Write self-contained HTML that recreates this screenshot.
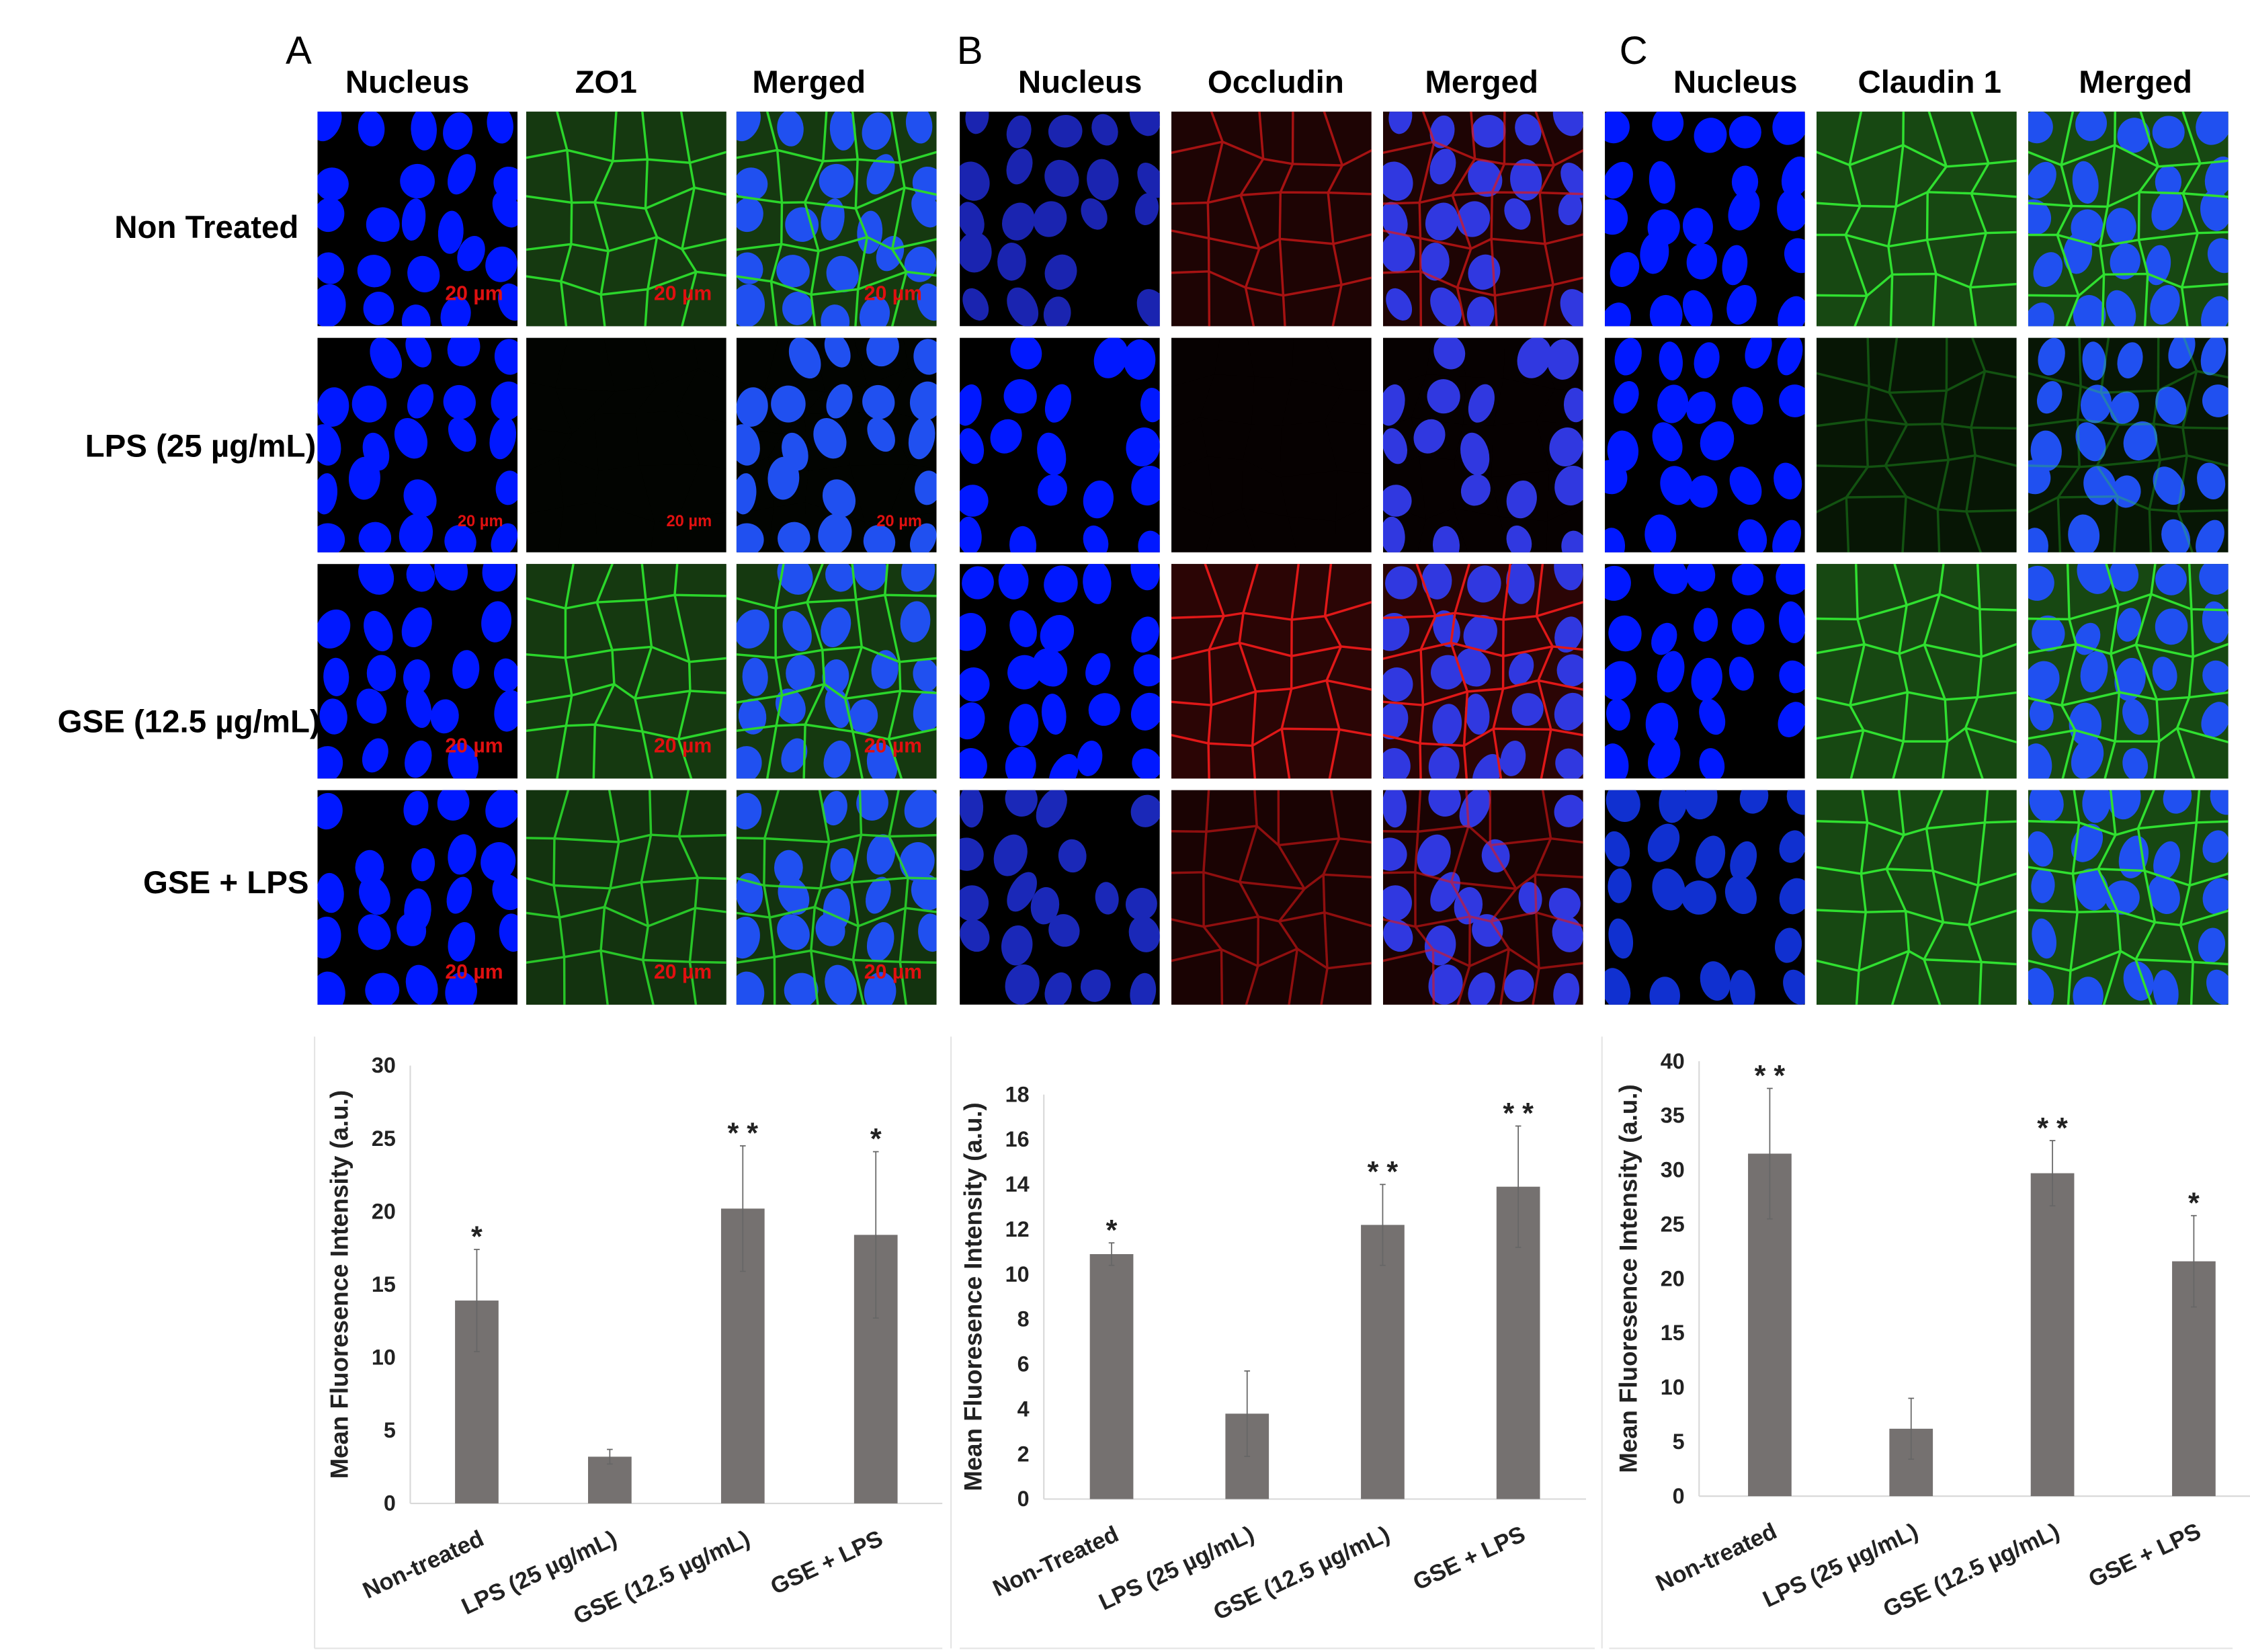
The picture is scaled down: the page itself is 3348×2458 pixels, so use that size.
<!DOCTYPE html>
<html><head><meta charset="utf-8"><style>
html,body{margin:0;padding:0;background:#fff;}
svg{display:block;}
text{font-family:"Liberation Sans",sans-serif;}
</style></head><body>
<svg id="fig" xmlns="http://www.w3.org/2000/svg" width="3348" height="2458" viewBox="0 0 1552 1139.5" preserveAspectRatio="none">
<rect x="0" y="0" width="1552" height="1139.5" fill="#fff"/>
<g id="micro"></g>
<g id="labels">
<text x="197" y="44" font-size="27">A</text>
<text x="660" y="44" font-size="27">B</text>
<text x="1117" y="44" font-size="27">C</text>
<g font-size="22" font-weight="bold" text-anchor="middle">
<text x="281" y="64">Nucleus</text>
<text x="418" y="64">ZO1</text>
<text x="558" y="64">Merged</text>
<text x="745" y="64">Nucleus</text>
<text x="880" y="64">Occludin</text>
<text x="1022" y="64">Merged</text>
<text x="1197" y="64">Nucleus</text>
<text x="1331" y="64">Claudin 1</text>
<text x="1473" y="64">Merged</text>
</g>
<g font-size="22" font-weight="bold" text-anchor="end">
<text x="206" y="164">Non Treated</text>
<text x="218" y="315">LPS (25 µg/mL)</text>
<text x="221" y="505">GSE (12.5 µg/mL)</text>
<text x="213" y="616">GSE + LPS</text>
</g>
</g>
<g stroke="#e4e4e4" stroke-width="1" fill="none">
<line x1="217" y1="1137" x2="650" y2="1137"/>
<line x1="217" y1="715" x2="217" y2="1137"/>
<line x1="656" y1="715" x2="656" y2="1137"/>
<line x1="1105" y1="715" x2="1105" y2="1137"/>
<line x1="662" y1="1137" x2="1100" y2="1137"/>
<line x1="1110" y1="1137" x2="1540" y2="1137"/>
</g>
<g id="charts"></g>
</svg>
<script>
// ===== Chart data =====
const catsA = ["Non-treated","LPS (25 µg/mL)","GSE (12.5 µg/mL)","GSE + LPS"];
const catsB = ["Non-Treated","LPS (25 µg/mL)","GSE (12.5 µg/mL)","GSE + LPS"];
const catsC = ["Non-treated","LPS (25 µg/mL)","GSE (12.5 µg/mL)","GSE + LPS"];
const valuesA = [13.9, 3.2, 20.2, 18.4];
const errorsA = [3.5, 0.5, 4.3, 5.7];
const starsA = ["*", "", "**", "*"];
const ticksA = [0,5,10,15,20,25,30];
const valuesB = [10.9, 3.8, 12.2, 13.9];
const errorsB = [0.5, 1.9, 1.8, 2.7];
const starsB = ["*", "", "**", "**"];
const ticksB = [0,2,4,6,8,10,12,14,16,18];
const valuesC = [31.5, 6.2, 29.7, 21.6];
const errorsC = [6.0, 2.8, 3.0, 4.2];
const starsC = ["**", "", "**", "*"];
const ticksC = [0,5,10,15,20,25,30,35,40];

const NS = "http://www.w3.org/2000/svg";
function mk(tag, attrs, parent){ const e=document.createElementNS(NS,tag); for(const k in attrs) e.setAttribute(k,attrs[k]); if(parent) parent.appendChild(e); return e; }

function drawChart(id, cfg, cats, vals, errs, stars, ticks){
  const root = document.getElementById('charts');
  const g = mk('g',{},root);
  
  
  const max = ticks[ticks.length-1];
  const y = v => cfg.y0 - (v/max)*(cfg.y0-cfg.yTop);
  const band = (cfg.xEnd-cfg.x0)/cats.length;
  const x = i => cfg.x0 + band*(i+0.5);
  mk('line',{x1:cfg.x0,y1:cfg.yTop,x2:cfg.x0,y2:cfg.y0,stroke:'#d9d9d9','stroke-width':1},g);
  mk('line',{x1:cfg.x0,y1:cfg.y0,x2:cfg.xEnd,y2:cfg.y0,stroke:'#d9d9d9','stroke-width':1},g);
  ticks.forEach(t=>{
    const tx = mk('text',{x:cfg.x0-10,y:y(t)+5,'font-size':15,'font-weight':'bold','text-anchor':'end',fill:'#222'},g);
    tx.textContent = t;
    
    
  });
  const yt = mk('text',{x:0,y:0,'font-size':17,'font-weight':'bold','text-anchor':'middle',fill:'#222',transform:`translate(${cfg.x0-43},${(cfg.y0+cfg.yTop)/2}) rotate(-90)`},g);
  yt.textContent = 'Mean Fluoresence Intensity (a.u.)';
  
  
  cats.forEach((c,i)=>{
    const cx = x(i), bw = 30;
    const r = mk('rect',{x:cx-bw/2,y:y(vals[i]),width:bw,height:cfg.y0-y(vals[i]),fill:'#757170'},g);
    
    
    const e = mk('line',{x1:cx,x2:cx,y1:y(vals[i]+errs[i]),y2:y(vals[i]-errs[i]),stroke:'#666','stroke-width':0.8},g);
    
    
    mk('line',{x1:cx-2,x2:cx+2,y1:y(vals[i]+errs[i]),y2:y(vals[i]+errs[i]),stroke:'#666','stroke-width':0.8},g);
    mk('line',{x1:cx-2,x2:cx+2,y1:y(vals[i]-errs[i]),y2:y(vals[i]-errs[i]),stroke:'#666','stroke-width':0.8},g);
    if(stars[i]){
      const s = mk('text',{x:cx,y:y(vals[i]+errs[i])-2,'font-size':20,'font-weight':'bold','text-anchor':'middle',fill:'#222'},g);
      s.textContent = stars[i].split('').join(' ');
      
      
    }
    const l = mk('text',{x:0,y:0,'font-size':16,'font-weight':'bold','text-anchor':'end',fill:'#222',transform:`translate(${cx+6},${cfg.y0+28}) rotate(-25)`},g);
    l.textContent = c;
    
    
  });
}
drawChart('a',{x0:283,xEnd:650,y0:1037,yTop:735},catsA,valuesA,errorsA,starsA,ticksA);
drawChart('b',{x0:720,xEnd:1094,y0:1034,yTop:755},catsB,valuesB,errorsB,starsB,ticksB);
drawChart('c',{x0:1172,xEnd:1562,y0:1032,yTop:732},catsC,valuesC,errorsC,starsC,ticksC);

// ===== Decorative microscopy panels =====
let seed = 7;
function rnd(){ seed = (seed*16807)%2147483647; return seed/2147483647; }
const micro = document.getElementById('micro');
const defs = mk('defs',{},micro);
const groups = [
  {cols:[219,363,508], marker:'#2bd62b', tint:'#173f12', inten:[1,0.08,1,0.9], nuc:['#0018ff','#0018ff','#0018ff','#0018ff'], bar:true},
  {cols:[662,808,954], marker:'#e01818', tint:'#300606', inten:[0.7,0.15,1,0.6], nuc:['#1a24b0','#0018ff','#0018ff','#1a28b8'], bar:false},
  {cols:[1107,1253,1399], marker:'#30e030', tint:'#1a5014', inten:[1,0.3,1,1], nuc:['#0018ff','#0018ff','#0018ff','#1030d0'], bar:false}
];
const rows = [77,233,389,545];
const W = 138, H = 148;
let cid = 0;
groups.forEach((gr,gi)=>{
  rows.forEach((ry,ri)=>{
    const nx=5, ny=5, pts=[];
    for(let j=0;j<=ny;j++){ pts[j]=[]; for(let i=0;i<=nx;i++){ pts[j][i]=[ (i/nx)*W + (i>0&&i<nx?(rnd()-0.5)*18:0)+(i==0?-10:0)+(i==nx?10:0), (j/ny)*H + (j>0&&j<ny?(rnd()-0.5)*18:0)+(j==0?-10:0)+(j==ny?10:0)]; } }
    const nuclei=[];
    for(let j=0;j<ny;j++) for(let i=0;i<nx;i++){
      if(rnd()<0.12) continue;
      const cx=(pts[j][i][0]+pts[j+1][i+1][0])/2+(rnd()-0.5)*6, cy=(pts[j][i][1]+pts[j+1][i+1][1])/2+(rnd()-0.5)*6;
      nuclei.push([cx,cy,8+rnd()*4,11+rnd()*4,(rnd()-0.5)*60]);
    }
    gr.cols.forEach((px,ci)=>{
      cid++;
      const clip = mk('clipPath',{id:'cp'+cid},defs);
      mk('rect',{x:px,y:ry,width:W,height:H},clip);
      const p = mk('g',{'clip-path':`url(#cp${cid})`},micro);
      
      
      mk('rect',{x:px,y:ry,width:W,height:H,fill:'#000'},p);
      const inten = gr.inten[ri];
      if(ci>=1){
        for(let j=0;j<ny;j++) for(let i=0;i<nx;i++){
          const q=[pts[j][i],pts[j][i+1],pts[j+1][i+1],pts[j+1][i]].map(a=>(a[0]+px)+','+(a[1]+ry)).join(' ');
          mk('polygon',{points:q,fill:gr.tint,opacity:inten*0.9},p);
        }
      }
      if(ci!==1){
        nuclei.forEach(n=>{
          mk('ellipse',{cx:n[0]+px,cy:n[1]+ry,rx:n[2],ry:n[3],fill:ci==2?(gi==1?'#3038e0':'#2050f0'):gr.nuc[ri],transform:`rotate(${n[4]} ${n[0]+px} ${n[1]+ry})`},p);
        });
      }
      if(ci>=1 && inten>0.2){
        let d='';
        for(let j=0;j<=ny;j++){ d+='M'+pts[j].map(a=>(a[0]+px)+' '+(a[1]+ry)).join(' L'); }
        for(let i=0;i<=nx;i++){ d+='M'; for(let j=0;j<=ny;j++){ d+=(j?' L':'')+(pts[j][i][0]+px)+' '+(pts[j][i][1]+ry); } }
        mk('path',{d:d,fill:'none',stroke:gr.marker,'stroke-width':1.6,opacity:Math.min(1,inten)},p);
      }
      if(gr.bar){
        const t = mk('text',{x:px+W-10,y:ry+H-18,'font-size':ri==1?11:14,'font-weight':'bold','text-anchor':'end',fill:'#e01010'},p);
        t.textContent='20 µm';
        
        
      }
    });
  });
});
</script>
</body></html>
